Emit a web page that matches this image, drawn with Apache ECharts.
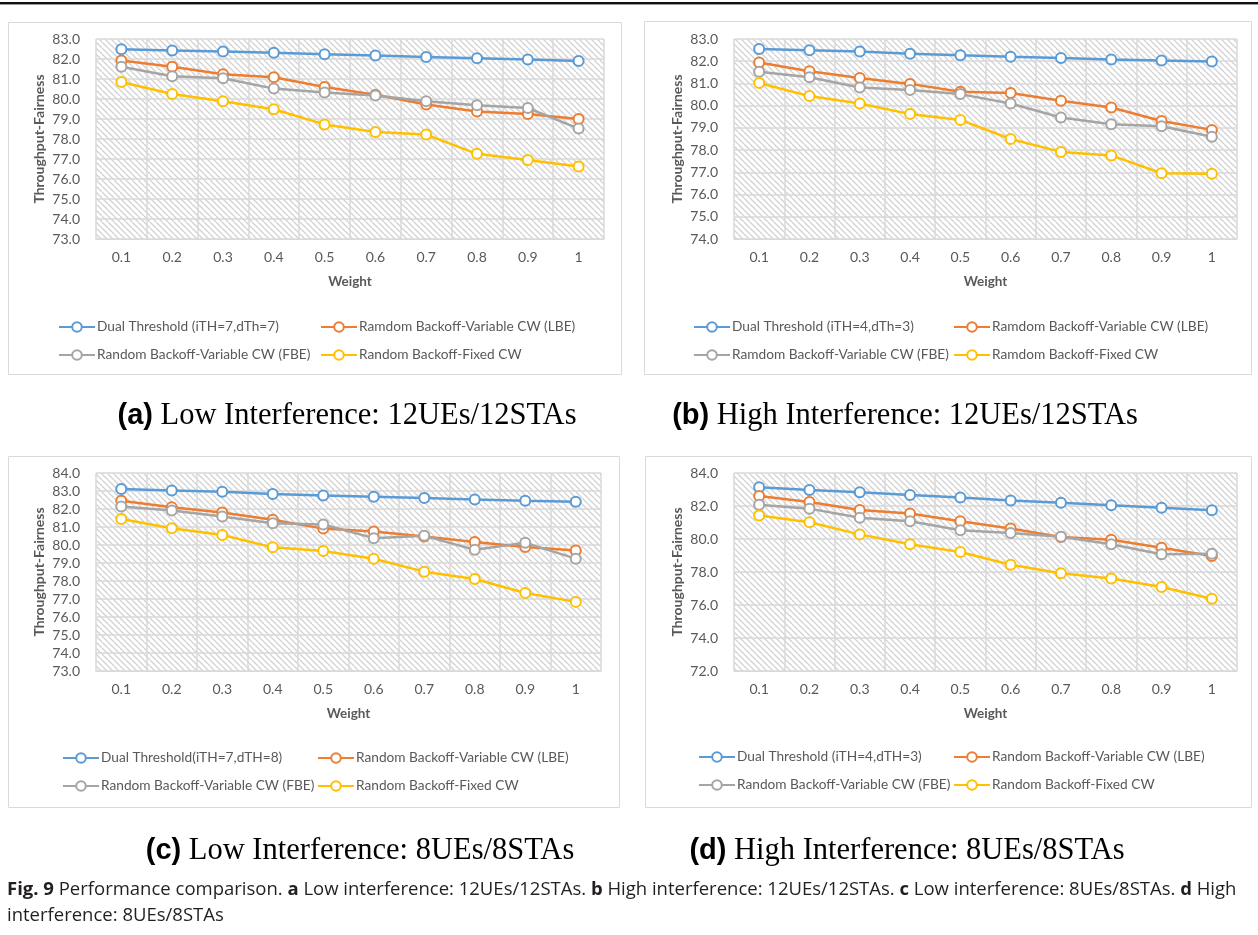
<!DOCTYPE html>
<html>
<head>
<meta charset="utf-8">
<script src="https://cdn.jsdelivr.net/npm/echarts@6/dist/echarts.min.js"></script>
<style>
html,body{margin:0;padding:0;background:#fff;}
#c{width:1258px;height:935px;}
</style>
</head>
<body>
<div id="c"></div>
<script>
// ---------- data ----------
const weights = ['0.1','0.2','0.3','0.4','0.5','0.6','0.7','0.8','0.9','1'];

const aDual  = [82.49, 82.43, 82.37, 82.31, 82.24, 82.17, 82.10, 82.04, 81.97, 81.90];
const aLBE   = [81.92, 81.61, 81.24, 81.09, 80.60, 80.21, 79.72, 79.37, 79.25, 79.00];
const aFBE   = [81.61, 81.14, 81.04, 80.52, 80.33, 80.18, 79.89, 79.69, 79.55, 78.52];
const aFixed = [80.85, 80.25, 79.89, 79.49, 78.73, 78.35, 78.22, 77.26, 76.95, 76.63];

const bDual  = [82.55, 82.49, 82.44, 82.34, 82.27, 82.20, 82.15, 82.08, 82.03, 81.99];
const bLBE   = [81.94, 81.55, 81.25, 80.98, 80.63, 80.57, 80.22, 79.92, 79.31, 78.91];
const bFBE   = [81.53, 81.28, 80.82, 80.70, 80.52, 80.10, 79.47, 79.16, 79.07, 78.60];
const bFixed = [81.02, 80.43, 80.10, 79.62, 79.36, 78.50, 77.92, 77.76, 76.96, 76.94];

const cDual  = [83.11, 83.03, 82.96, 82.83, 82.75, 82.68, 82.61, 82.53, 82.46, 82.40];
const cLBE   = [82.46, 82.10, 81.81, 81.40, 80.91, 80.75, 80.47, 80.17, 79.89, 79.69];
const cFBE   = [82.14, 81.92, 81.58, 81.21, 81.14, 80.38, 80.51, 79.73, 80.12, 79.24];
const cFixed = [81.45, 80.93, 80.56, 79.87, 79.67, 79.24, 78.52, 78.11, 77.33, 76.84];

const dDual  = [83.13, 82.97, 82.83, 82.67, 82.51, 82.34, 82.20, 82.04, 81.90, 81.74];
const dLBE   = [82.61, 82.24, 81.76, 81.54, 81.07, 80.63, 80.12, 79.96, 79.47, 78.97];
const dFBE   = [82.08, 81.84, 81.29, 81.07, 80.53, 80.36, 80.14, 79.68, 79.07, 79.11];
const dFixed = [81.43, 81.01, 80.28, 79.68, 79.21, 78.44, 77.92, 77.60, 77.09, 76.38];

const aNames = ['Dual Threshold (iTH=7,dTh=7)', 'Ramdom Backoff-Variable CW (LBE)', 'Random Backoff-Variable CW (FBE)', 'Random Backoff-Fixed CW'];
const bNames = ['Dual Threshold (iTH=4,dTh=3)', 'Ramdom Backoff-Variable CW (LBE)', 'Ramdom Backoff-Variable CW (FBE)', 'Ramdom Backoff-Fixed CW'];
const cNames = ['Dual Threshold(iTH=7,dTH=8)', 'Random Backoff-Variable CW (LBE)', 'Random Backoff-Variable CW (FBE)', 'Random Backoff-Fixed CW'];
const dNames = ['Dual Threshold (iTH=4,dTH=3)', 'Random Backoff-Variable CW (LBE)', 'Random Backoff-Variable CW (FBE)', 'Random Backoff-Fixed CW'];

const yRanges = [[73, 83, 1], [74, 83, 1], [73, 84, 1], [72, 84, 2]];

const panelLabels = ['(a)', '(b)', '(c)', '(d)'];
const panelTitles = [' Low Interference: 12UEs/12STAs', ' High Interference: 12UEs/12STAs', ' Low Interference: 8UEs/8STAs', ' High Interference: 8UEs/8STAs'];

// ---------- styling / layout ----------
const colors = ['#5B9BD5', '#ED7D31', '#A5A5A5', '#FFC000'];
const panels = [
  {names: aNames, data: [aDual, aLBE, aFBE, aFixed], box: [8, 22, 613, 352], grid: [96, 39, 508, 200], leg: [58, 320, 320], cap: [347, 416]},
  {names: bNames, data: [bDual, bLBE, bFBE, bFixed], box: [644, 21, 607, 353], grid: [734, 39, 503, 200], leg: [693, 953, 320], cap: [905, 416]},
  {names: cNames, data: [cDual, cLBE, cFBE, cFixed], box: [8, 456, 611, 351], grid: [96, 473, 505, 198], leg: [62, 317, 751], cap: [360, 851]},
  {names: dNames, data: [dDual, dLBE, dFBE, dFixed], box: [645, 456, 606, 351], grid: [734, 473, 503, 198], leg: [698, 953, 750], cap: [907, 851]}
];

// hatch pattern
const pc = document.createElement('canvas');
const S = 6;
pc.width = S; pc.height = S;
const ctx = pc.getContext('2d');
ctx.fillStyle = '#ffffff';
ctx.fillRect(0, 0, S, S);
ctx.strokeStyle = '#d2d2d2';
ctx.lineWidth = 1.3;
[-S, 0, S].forEach(k => { ctx.beginPath(); ctx.moveTo(k, 0); ctx.lineTo(k + S, S); ctx.stroke(); });

const FONT = 'Lato, "Open Sans", sans-serif';
const grids = [], xAxes = [], yAxes = [], series = [], legends = [], graphics = [];

panels.forEach((p, i) => {
  const [gl, gt, gw, gh] = p.grid;
  grids.push({left: gl, top: gt, width: gw, height: gh, show: true, borderWidth: 0,
    backgroundColor: {image: pc, repeat: 'repeat'}});
  xAxes.push({type: 'category', gridIndex: i, data: weights, boundaryGap: true,
    name: 'Weight', nameLocation: 'middle', nameGap: 36,
    nameTextStyle: {fontFamily: FONT, fontWeight: 'bold', fontSize: 13.5, color: '#595959'},
    axisLine: {lineStyle: {color: '#d9d9d9', width: 1}}, axisTick: {show: false},
    axisLabel: {fontFamily: FONT, fontSize: 14, color: '#595959', margin: 11, interval: 0},
    splitLine: {show: true, interval: 0, lineStyle: {color: '#d9d9d9', width: 1.5}}});
  const [mn, mx, iv] = yRanges[i];
  yAxes.push({type: 'value', gridIndex: i, min: mn, max: mx, interval: iv,
    name: 'Throughput-Fairness', nameLocation: 'middle', nameGap: 50,
    nameTextStyle: {fontFamily: FONT, fontWeight: 'bold', fontSize: 14, color: '#595959'},
    axisLine: {show: false}, axisTick: {show: false},
    axisLabel: {fontFamily: FONT, fontSize: 14, color: '#595959', margin: 16, formatter: v => v.toFixed(1)},
    splitLine: {show: true, lineStyle: {color: '#d9d9d9', width: 1.5}}});
  p.names.forEach((nm, k) => {
    series.push({type: 'line', name: nm, xAxisIndex: i, yAxisIndex: i, data: p.data[k],
      symbol: 'emptyCircle', symbolSize: 10, color: colors[k],
      lineStyle: {width: 2.5, color: colors[k]},
      itemStyle: {color: colors[k], borderWidth: 2.3}, z: 2 + k});
  });
  const legCommon = {orient: 'vertical', itemWidth: 36, itemHeight: 12, itemGap: 14,
    textStyle: {fontFamily: FONT, fontSize: 13.7, color: '#595959', padding: [0, 0, 0, -3]},
    selectedMode: false, top: p.leg[2], padding: 0};
  legends.push(Object.assign({}, legCommon, {left: p.leg[0], data: [p.names[0], p.names[2]]}));
  legends.push(Object.assign({}, legCommon, {left: p.leg[1], data: [p.names[1], p.names[3]]}));
  const [bx, by, bw, bh] = p.box;
  graphics.push({type: 'rect', shape: {x: bx + 0.5, y: by + 0.5, width: bw, height: bh},
    style: {fill: 'none', stroke: '#d9d9d9', lineWidth: 1}, z: -1});
  graphics.push({type: 'text', x: p.cap[0], y: p.cap[1],
    style: {text: '{b|' + panelLabels[i] + '}{t|' + panelTitles[i] + '}', align: 'center', verticalAlign: 'middle',
      rich: {b: {fontFamily: '"Liberation Sans", Arial, sans-serif', fontWeight: 'bold', fontSize: 29, fill: '#000'},
             t: {fontFamily: '"Liberation Serif", "Times New Roman", serif', fontSize: 30.5, fill: '#000'}}}});
});

// top rule
graphics.push({type: 'rect', shape: {x: 0, y: 2, width: 1258, height: 2}, style: {fill: '#111'}});
graphics.push({type: 'rect', shape: {x: 0, y: 4, width: 1258, height: 1}, style: {fill: '#999'}});
// figure caption
graphics.push({type: 'text', x: 7, y: 890,
  style: {text: '{b|Fig. 9} Performance comparison. {b|a} Low interference: 12UEs/12STAs. {b|b} High interference: 12UEs/12STAs. {b|c} Low interference: 8UEs/8STAs. {b|d} High',
    verticalAlign: 'middle', fontFamily: '"Open Sans", sans-serif', fontSize: 18.5, fill: '#231F20',
    rich: {b: {fontFamily: '"Open Sans", sans-serif', fontWeight: 'bold', fontSize: 18.5, fill: '#231F20'}}}});
graphics.push({type: 'text', x: 7, y: 916,
  style: {text: 'interference: 8UEs/8STAs', verticalAlign: 'middle', fontFamily: '"Open Sans", sans-serif', fontSize: 18.5, fill: '#231F20'}});

const chart = echarts.init(document.getElementById('c'));
chart.setOption({
  backgroundColor: '#fff',
  animation: false,
  grid: grids, xAxis: xAxes, yAxis: yAxes, series: series, legend: legends,
  graphic: graphics
});
</script>
</body>
</html>
